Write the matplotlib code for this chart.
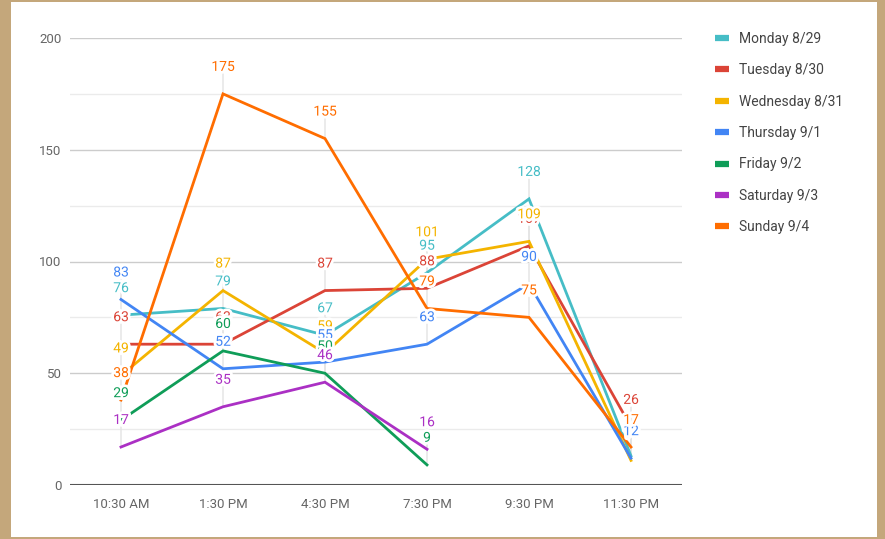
import matplotlib
matplotlib.use("Agg")
import matplotlib.pyplot as plt
import matplotlib.patheffects as pe
from matplotlib.lines import Line2D
from matplotlib.patches import Rectangle
import numpy as np

plt.rcParams['font.family'] = ['Roboto', 'DejaVu Sans']

times = ["10:30 AM", "1:30 PM", "4:30 PM", "7:30 PM", "9:30 PM", "11:30 PM"]
series_names = ["Monday 8/29", "Tuesday 8/30", "Wednesday 8/31", "Thursday 9/1",
                "Friday 9/2", "Saturday 9/3", "Sunday 9/4"]
monday = [76, 79, 67, 95, 128, 13]
tuesday = [63, 63, 87, 88, 107, 26]
wednesday = [49, 87, 59, 101, 109, 11]
thursday = [83, 52, 55, 63, 90, 12]
friday = [29, 60, 50, 9, None, None]
saturday = [17, 35, 46, 16, None, None]
sunday = [38, 175, 155, 79, 75, 17]
series_values = [monday, tuesday, wednesday, thursday, friday, saturday, sunday]
colors = ["#46BDC6", "#DB4437", "#F4B400", "#4285F4", "#0F9D58", "#AB30C4", "#FF6D00"]
yticks = [0, 50, 100, 150, 200]

W, H = 885, 539
fig = plt.figure(figsize=(W / 100, H / 100), dpi=100)
fig.patch.set_facecolor("#C4A77B")
fig.patches.append(Rectangle((11 / W, 2 / H), (877 - 11) / W, (537 - 2) / H,
                             transform=fig.transFigure, facecolor="white",
                             edgecolor="none", zorder=-10))

ax = fig.add_axes([70 / W, 54 / H, (682 - 70) / W, (485 - 38) / H])
ax.set_facecolor("none")
ax.set_zorder(1)
x = np.arange(len(times))
ax.set_xlim(-0.5, len(times) - 0.5)
ax.set_ylim(0, 200)

# gridlines
for yv in np.arange(25, 201, 25):
    major = (yv % 50 == 0)
    ax.axhline(yv, color="#cccccc" if major else "#ebebeb", lw=1, zorder=0.5)
ax.axhline(0, color="#555555", lw=1.5, zorder=3)

for s in ax.spines.values():
    s.set_visible(False)
ax.set_yticks(yticks)
ax.set_yticklabels([str(v) for v in yticks])
ax.set_xticks(x)
ax.set_xticklabels(times)
ax.tick_params(axis="both", length=0, labelsize=9.5, labelcolor="#666666")
ax.tick_params(axis="y", pad=6)
ax.tick_params(axis="x", pad=9)

# lines
for k, (vals, c) in enumerate(zip(series_values, colors)):
    xs = [xi for xi, v in zip(x, vals) if v is not None]
    ys = [v for v in vals if v is not None]
    ax.plot(xs, ys, color=c, lw=2, zorder=2 + k * 0.01, solid_joinstyle="miter")

# stems
for vals in series_values:
    for xi, v in zip(x, vals):
        if v is None:
            continue
        ax.annotate("", xy=(xi, v), xytext=(0, 20), textcoords="offset pixels",
                    arrowprops=dict(arrowstyle="-", color="#e3e3e3", lw=1,
                                    shrinkA=0, shrinkB=0), zorder=1)

# annotations
halo = [pe.withStroke(linewidth=4, foreground="white")]
for k, (vals, c) in enumerate(zip(series_values, colors)):
    for xi, v in zip(x, vals):
        if v is None:
            continue
        ax.annotate(str(v), xy=(xi, v), xytext=(0, 27), textcoords="offset pixels",
                    ha="center", va="center", fontsize=10, color=c,
                    path_effects=halo, zorder=5 + k)

handles = [Line2D([], [], color=c, lw=4.5, solid_capstyle="butt") for c in colors]
leg = fig.legend(handles, series_names, loc="upper left",
                 bbox_to_anchor=(715 / W, 1 - 32 / H), frameon=False,
                 fontsize=10, handlelength=1.0, handletextpad=0.75,
                 labelspacing=1.25, borderaxespad=0, borderpad=0)
for t in leg.get_texts():
    t.set_color("#444444")

fig.savefig("out.png", dpi=100, facecolor=fig.get_facecolor())
